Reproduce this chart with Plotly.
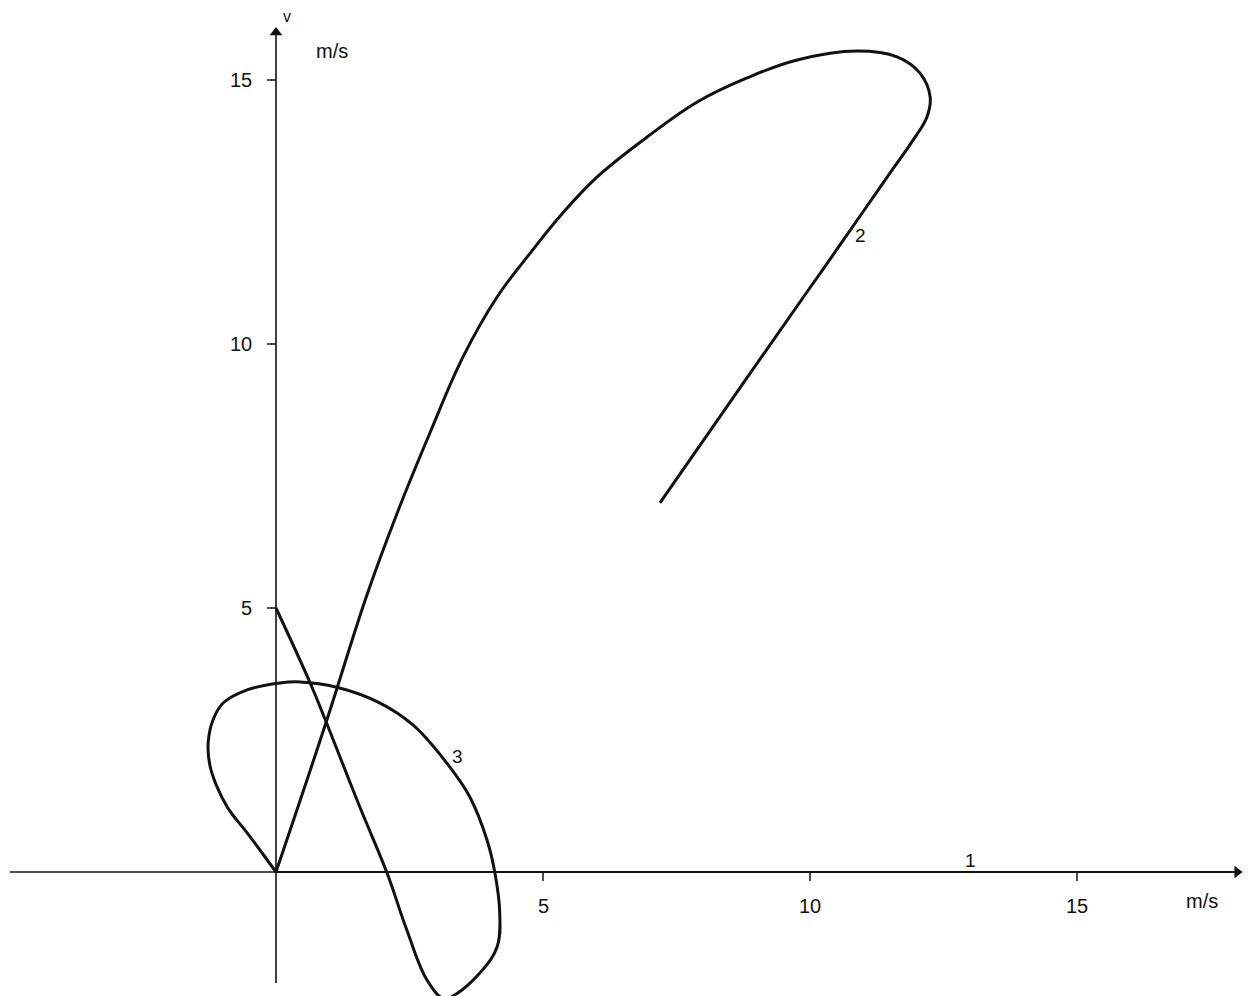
import plotly.graph_objects as go

# Hodograph of velocity (u, v) in m/s for three cases
curve1_u = [0.0, 18.0]
curve1_v = [0.0, 0.0]

curve2_u = [0.0, 0.94, 1.69, 2.27, 2.88, 3.50, 4.14, 4.76, 5.37, 6.01, 6.95, 7.88,
            8.82, 9.76, 10.88, 11.63, 12.06, 12.25, 12.19, 11.93, 11.50, 10.99,
            10.51, 9.94, 8.75, 7.19]
curve2_v = [0.0, 2.84, 5.21, 6.80, 8.31, 9.75, 10.89, 11.72, 12.48, 13.16, 13.92, 14.58,
            15.04, 15.38, 15.55, 15.44, 15.13, 14.68, 14.30, 13.86, 13.24, 12.50,
            11.80, 10.98, 9.26, 6.99]

curve3_u = [0.0, 0.64, 0.94, 1.57, 2.08, 2.45, 2.83, 3.15, 3.39, 3.82, 4.14, 4.19,
            4.10, 3.95, 3.63, 3.20, 2.57, 1.95, 1.14, 0.45, 0.07, -0.54, -0.99,
            -1.18, -1.27, -1.24, -1.12, -0.90, -0.54, -0.26, 0.0]
curve3_v = [5.0, 3.58, 2.84, 1.23, -0.02, -1.10, -2.05, -2.40, -2.30, -1.91, -1.42, -0.78,
            -0.02, 0.61, 1.42, 2.06, 2.78, 3.20, 3.50, 3.60, 3.58, 3.45, 3.20,
            2.88, 2.45, 2.03, 1.65, 1.21, 0.74, 0.36, 0.0]

curve_labels = ["1", "2", "3"]
label_u = [13.0, 10.94, 3.39]
label_v = [0.22, 12.06, 2.18]

u_ticks = [5, 10, 15]
v_ticks = [5, 10, 15]
u_tick_text = ["5", "10", "15"]
v_tick_text = ["5", "10", "15"]

u_axis_span = [-4.98, 18.0]
v_axis_span = [-2.1, 15.9]

# pixel scale: 53.4 px per m/s horizontally, 52.8 px per m/s vertically
PX_U, PX_V = 53.4, 52.8
W, H = 1254, 996
X0, Y0 = 276, 872

INK = "#111111"
FONT = "Liberation Sans"

fig = go.Figure()

# axes
fig.add_trace(go.Scatter(x=u_axis_span, y=[0, 0], mode="lines",
                         line=dict(color=INK, width=1.6), hoverinfo="skip"))
fig.add_trace(go.Scatter(x=[0, 0], y=v_axis_span, mode="lines",
                         line=dict(color=INK, width=1.6), hoverinfo="skip"))
# arrow heads
fig.add_trace(go.Scatter(x=[u_axis_span[1]], y=[0], mode="markers",
                         marker=dict(symbol="triangle-right", size=11, color=INK),
                         hoverinfo="skip"))
fig.add_trace(go.Scatter(x=[0], y=[v_axis_span[1]], mode="markers",
                         marker=dict(symbol="triangle-up", size=11, color=INK),
                         hoverinfo="skip"))

# tick marks
tick_len_u = 9 / PX_V
tick_len_v = 9 / PX_U
for t in u_ticks:
    fig.add_trace(go.Scatter(x=[t, t], y=[0, -tick_len_u], mode="lines",
                             line=dict(color=INK, width=1.5), hoverinfo="skip"))
for t in v_ticks:
    fig.add_trace(go.Scatter(x=[-tick_len_v, 0], y=[t, t], mode="lines",
                             line=dict(color=INK, width=1.5), hoverinfo="skip"))

# curves
fig.add_trace(go.Scatter(x=curve1_u, y=curve1_v, mode="lines",
                         line=dict(color=INK, width=2), hoverinfo="skip"))
fig.add_trace(go.Scatter(x=curve2_u, y=curve2_v, mode="lines",
                         line=dict(color=INK, width=3, shape="spline", smoothing=1.1),
                         hoverinfo="skip"))
fig.add_trace(go.Scatter(x=curve3_u, y=curve3_v, mode="lines",
                         line=dict(color=INK, width=3, shape="spline", smoothing=1.1),
                         hoverinfo="skip"))

annotations = []
for txt, u, v in zip(curve_labels, label_u, label_v):
    annotations.append(dict(x=u, y=v, text=txt, showarrow=False,
                            font=dict(family=FONT, size=19, color=INK)))
for txt, t in zip(u_tick_text, u_ticks):
    annotations.append(dict(x=t, y=-0.64, text=txt, showarrow=False,
                            font=dict(family=FONT, size=20, color=INK)))
for txt, t in zip(v_tick_text, v_ticks):
    annotations.append(dict(x=-0.42, y=t, text=txt, showarrow=False, xanchor="right",
                            font=dict(family=FONT, size=20, color=INK)))
# axis names and units
annotations += [
    dict(x=0.2, y=16.2, text="v", showarrow=False,
         font=dict(family=FONT, size=16, color=INK)),
    dict(x=1.05, y=15.55, text="m/s", showarrow=False,
         font=dict(family=FONT, size=20, color=INK)),
    dict(x=18.38, y=-0.15, text="u", showarrow=False, xanchor="center",
         font=dict(family=FONT, size=18, color=INK)),
    dict(x=17.35, y=-0.55, text="m/s", showarrow=False,
         font=dict(family=FONT, size=20, color=INK)),
]

fig.update_layout(
    width=W, height=H,
    margin=dict(l=0, r=0, t=0, b=0),
    paper_bgcolor="white", plot_bgcolor="white",
    showlegend=False,
    xaxis=dict(range=[-X0 / PX_U, (W - X0) / PX_U], visible=False, fixedrange=True),
    yaxis=dict(range=[(Y0 - H) / PX_V, Y0 / PX_V], visible=False, fixedrange=True),
    annotations=annotations,
)

fig.write_html("out.html")
